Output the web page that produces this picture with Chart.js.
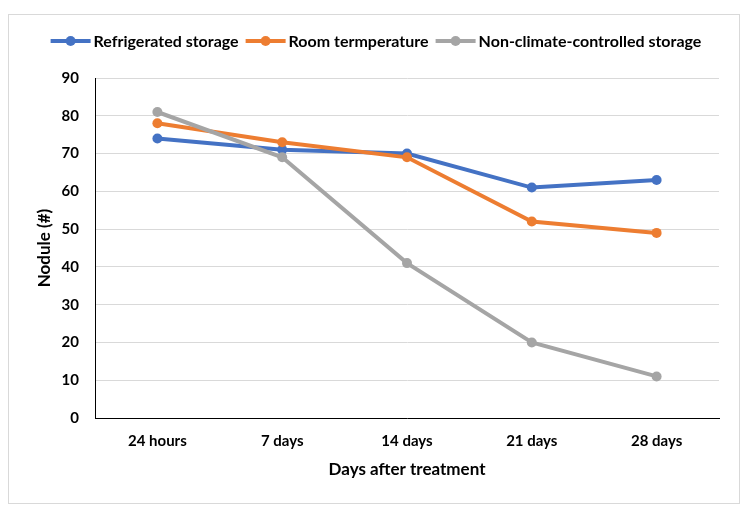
<!DOCTYPE html>
<html>
<head>
<meta charset="utf-8">
<script src="https://cdn.jsdelivr.net/npm/chart.js@4"></script>
<style>
  html, body { margin: 0; padding: 0; background: #fff; }
  #wrap { position: relative; width: 748px; height: 517px; }
  #frame { position: absolute; left: 8px; top: 14px; width: 730px; height: 488px; border: 1px solid #d9d9d9; }
  canvas { position: absolute; left: 0; top: 0; }
</style>
</head>
<body>
<div id="wrap">
  <div id="frame"></div>
  <canvas id="chart1" width="748" height="517"></canvas>
</div>
<script>
// données
const days = ["24 hours", "7 days", "14 days", "21 days", "28 days"];
const refrigerated = [74, 71, 70, 61, 63];
const roomTemp = [78, 73, 69, 52, 49];
const nonClimate = [81, 69, 41, 20, 11];
const yTicks = [0, 10, 20, 30, 40, 50, 60, 70, 80, 90];

const fontFamily = "Lato, 'Open Sans', sans-serif";
Chart.defaults.font.family = fontFamily;
Chart.defaults.color = "#000";

// légende dessinée à la main : trait + rond + texte
const legendPlugin = {
    id: "lineLegend",
    afterDraw(chart) {
        const c = chart.ctx;
        c.save();
        c.font = "bold 16px " + fontFamily;
        c.textBaseline = "middle";
        const lineLen = 40, gap = 3, itemGap = 7;
        const items = chart.data.datasets.map(ds => ({
            label: ds.label, color: ds.borderColor,
            w: lineLen + gap + c.measureText(ds.label).width
        }));
        const total = items.reduce((s, it) => s + it.w, 0) + itemGap * (items.length - 1);
        let x = 376 - total / 2;
        const y = 41;
        items.forEach(it => {
            c.strokeStyle = it.color;
            c.lineWidth = 4;
            c.beginPath();
            c.moveTo(x, y);
            c.lineTo(x + lineLen, y);
            c.stroke();
            c.fillStyle = it.color;
            c.beginPath();
            c.arc(x + lineLen / 2, y, 5, 0, Math.PI * 2);
            c.fill();
            c.fillStyle = "#000";
            c.fillText(it.label, x + lineLen + gap, y + 1);
            x += it.w + itemGap;
        });
        c.restore();
    }
};

const ctx0 = document.getElementById("chart1");

const chart = new Chart(ctx0, {
    type: "line",
    data: {
        labels: days,
        datasets: [
            {
                label: "Refrigerated storage",
                data: refrigerated,
                borderColor: "#4472C4",
                backgroundColor: "#4472C4",
                order: 3
            },
            {
                label: "Room termperature",
                data: roomTemp,
                borderColor: "#ED7D31",
                backgroundColor: "#ED7D31",
                order: 2
            },
            {
                label: "Non-climate-controlled storage",
                data: nonClimate,
                borderColor: "#A5A5A5",
                backgroundColor: "#A5A5A5",
                order: 1
            }
        ]
    },
    options: {
        responsive: false,
        animation: false,
        devicePixelRatio: 1,
        layout: {
            padding: { top: 78, right: 29, bottom: 37, left: 33 }
        },
        elements: {
            line: { borderWidth: 4, tension: 0 },
            point: { radius: 5, hoverRadius: 5, borderWidth: 0 }
        },
        plugins: {
            legend: { display: false },
            tooltip: { enabled: false }
        },
        scales: {
            x: {
                offset: true,
                grid: { display: false, drawTicks: false },
                border: { display: true, color: "#000", width: 1 },
                ticks: { padding: 14, font: { size: 15, weight: "bold" }, color: "#000" },
                title: {
                    display: true,
                    text: "Days after treatment",
                    font: { size: 17, weight: "bold" },
                    color: "#000",
                    padding: 0
                },
                afterFit(scale) { scale.height = 62; }
            },
            y: {
                min: 0,
                max: 90,
                afterBuildTicks(scale) { scale.ticks = yTicks.map(v => ({ value: v })); },
                grid: { color: "#d9d9d9", lineWidth: 1, drawTicks: false },
                border: { display: true, color: "#000", width: 1 },
                ticks: { padding: 16, font: { size: 15, weight: "bold" }, color: "#000" },
                title: {
                    display: true,
                    text: "Nodule (#)",
                    font: { size: 17, weight: "bold" },
                    color: "#000",
                    padding: 1
                },
                afterFit(scale) { scale.width = 62; }
            }
        }
    },
    plugins: [legendPlugin]
});
</script>
</body>
</html>
